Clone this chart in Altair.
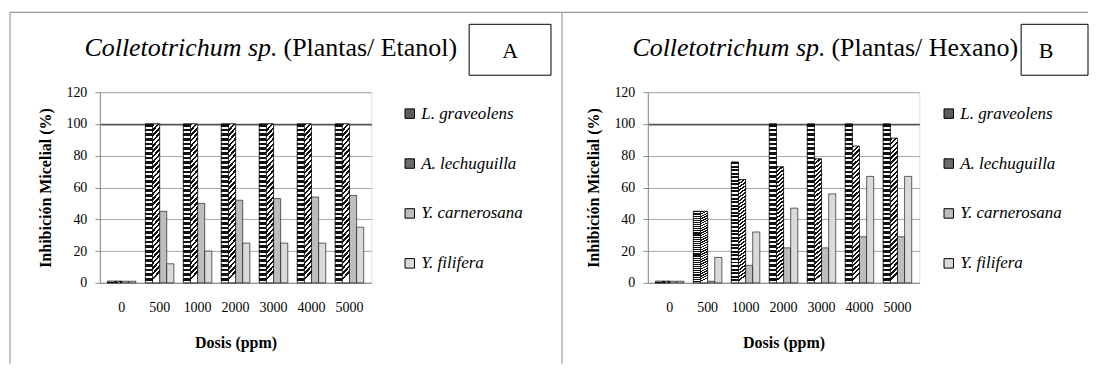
import altair as alt
import pandas as pd

doses = ["0", "500", "1000", "2000", "3000", "4000", "5000"]
series = ["L. graveolens", "A. lechuguilla", "Y. carnerosana", "Y. filifera"]

etanol_lg = [1, 100, 100, 100, 100, 100, 100]
etanol_al = [1, 100, 100, 100, 100, 100, 100]
etanol_yc = [1, 45, 50, 52, 53, 54, 55]
etanol_yf = [1, 12, 20, 25, 25, 25, 35]

hexano_lg = [1, 45, 76, 100, 100, 100, 100]
hexano_al = [1, 45, 65, 73, 78, 86, 91]
hexano_yc = [1, 1, 11, 22, 22, 29, 29]
hexano_yf = [1, 16, 32, 47, 56, 67, 67]

title_italic = "Colletotrichum sp."
title_a = "(Plantas/ Etanol)"
title_b = "(Plantas/ Hexano)"
y_title = "Inhibición Micelial (%)"
x_title = "Dosis (ppm)"

SERIF = "Liberation Serif"
grays = ["#5c5c5c", "#6a6a6a", "#bdbdbd", "#dadada"]


def make_df(cols):
    rows = []
    for s, vals in zip(series, cols):
        for d, v in zip(doses, vals):
            rows.append({"dosis": d, "serie": s, "valor": v})
    return pd.DataFrame(rows)


def stripes(n, c1, c2, frac=0.5, x2=0.0, y2=1.0):
    stops = []
    for i in range(n):
        a = i / n
        b = (i + frac) / n
        c = (i + 1) / n
        stops += [
            alt.GradientStop(offset=a, color=c1),
            alt.GradientStop(offset=b, color=c1),
            alt.GradientStop(offset=b, color=c2),
            alt.GradientStop(offset=c, color=c2),
        ]
    return alt.LinearGradient(gradient="linear", stops=stops, x1=0, y1=0, x2=x2, y2=y2)


fill_lg = stripes(34, "#111111", "#ffffff", 0.55)
fill_al = stripes(30, "#111111", "#ffffff", 0.5, x2=0.05, y2=1.0)


def panel(df, title_reg, letter, legend_x, box_x1, box_x2, letter_x, border_left, top_x1, top_x2):
    x = alt.X(
        "dosis:N", sort=doses,
        scale=alt.Scale(paddingInner=0.25, paddingOuter=0.2),
        axis=alt.Axis(title=x_title, labelAngle=0, ticks=False, domainColor="#8c8c8c",
                      labelPadding=18, titlePadding=20, labelFontSize=14,
                      labelColor="black", titleFontSize=16,
                      titleFontWeight="bold", titleColor="black"),
    )
    xo = alt.XOffset("serie:N", sort=series,
                     scale=alt.Scale(domain=series, paddingInner=0, paddingOuter=0))
    y = alt.Y(
        "valor:Q", scale=alt.Scale(domain=[0, 120]),
        axis=alt.Axis(values=[0, 20, 40, 60, 80, 100, 120], title=y_title,
                      labelOverlap=False,
                      gridColor={"condition": {"test": "datum.value === 100", "value": "#555555"},
                                 "value": "#a8a8a8"},
                      gridWidth={"condition": {"test": "datum.value === 100", "value": 1.6},
                                 "value": 1},
                      domainColor="#8c8c8c", tickColor="#8c8c8c", tickSize=5, labelPadding=8,
                      labelFontSize=14, labelColor="black",
                      titleFontSize=16, titleFontWeight="bold",
                      titleColor="black", titlePadding=12),
    )
    base = alt.Chart(df).mark_bar(stroke="black", strokeWidth=0.6).encode(
        x=x, xOffset=xo, y=y,
        color=alt.Color("serie:N", sort=series,
                        scale=alt.Scale(domain=series, range=grays),
                        legend=alt.Legend(title=None, orient="none", legendX=legend_x, legendY=13,
                                          symbolType="square", symbolSize=90,
                                          symbolStrokeColor="black", symbolStrokeWidth=1,
                                          labelFontStyle="italic",
                                          labelFontSize=17, labelColor="black",
                                          rowPadding=32, labelOffset=3)),
    )
    overlays = []
    for s, f in zip(series[:2], [fill_lg, fill_al]):
        overlays.append(
            alt.Chart(df).transform_filter(alt.datum.serie == s)
            .mark_bar(fill=f, stroke="black", strokeWidth=0.6)
            .encode(x=x, xOffset=xo, y=y)
        )
    one = pd.DataFrame({"a": [0]})
    rule_left = alt.Chart(one).mark_rule(color="#9a9a9a", strokeWidth=1.2).encode(
        x=alt.value(border_left), y=alt.value(-80), y2=alt.value(272))
    rule_top = alt.Chart(one).mark_rule(color="#9a9a9a", strokeWidth=1.2).encode(
        x=alt.value(top_x1), x2=alt.value(top_x2), y=alt.value(-80))
    t_it = alt.Chart(pd.DataFrame({"t": [title_italic]})).mark_text(
        fontSize=26, fontStyle="italic", align="right", baseline="alphabetic",
        color="black").encode(text="t:N", x=alt.value(178), y=alt.value(-36))
    t_reg = alt.Chart(pd.DataFrame({"t": [title_reg]})).mark_text(
        fontSize=26, align="left", baseline="alphabetic",
        color="black").encode(text="t:N", x=alt.value(184), y=alt.value(-36))
    box = alt.Chart(one).mark_rect(fill="white", stroke="black", strokeWidth=1).encode(
        x=alt.value(box_x1), x2=alt.value(box_x2), y=alt.value(-68), y2=alt.value(-17))
    t_letter = alt.Chart(pd.DataFrame({"t": [letter]})).mark_text(
        fontSize=22, align="center", baseline="middle", color="black").encode(
        text="t:N", x=alt.value(letter_x), y=alt.value(-41))
    layers = [rule_left, rule_top, base] + overlays + [t_it, t_reg, box, t_letter]
    return alt.layer(*layers).properties(width=272, height=191)


pa = panel(make_df([etanol_lg, etanol_al, etanol_yc, etanol_yf]), title_a, "A",
           302, 370, 452, 411, -90, -90, 463)
pb = panel(make_df([hexano_lg, hexano_al, hexano_yc, hexano_yf]), title_b, "B",
           293, 374, 441, 399, -86, -86, 441)

chart = alt.HConcatChart(hconcat=[pa, pb], spacing=277, bounds="flush").resolve_scale(
    color="independent", x="independent", y="independent").resolve_legend(
    color="independent").properties(
    padding={"left": 0, "top": 2, "right": 0, "bottom": 0}).configure_view(
    strokeWidth=0).configure(font=SERIF)

chart.save("out.html", embed_options={"renderer": "svg", "actions": False})
